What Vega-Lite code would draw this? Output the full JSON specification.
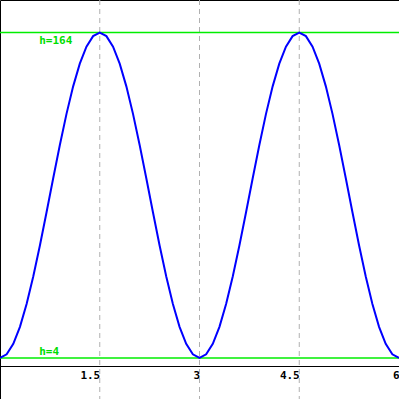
{
  "$schema": "https://vega.github.io/schema/vega-lite/v6.json",
  "width": 399,
  "height": 399,
  "padding": 0,
  "autosize": {"type": "none"},
  "background": "white",
  "config": {"view": {"stroke": "black", "strokeWidth": 1}},
  "datasets": {
    "curve": [
      {"x": 0.0, "h": 4}, {"x": 0.1, "h": 5.75}, {"x": 0.2, "h": 10.92}, {"x": 0.3, "h": 19.28}, {"x": 0.4, "h": 30.47},
      {"x": 0.5, "h": 44}, {"x": 0.6, "h": 59.28}, {"x": 0.7, "h": 75.64}, {"x": 0.8, "h": 92.36}, {"x": 0.9, "h": 108.72},
      {"x": 1.0, "h": 124}, {"x": 1.1, "h": 137.53}, {"x": 1.2, "h": 148.72}, {"x": 1.3, "h": 157.08}, {"x": 1.4, "h": 162.25},
      {"x": 1.5, "h": 164}, {"x": 1.6, "h": 162.25}, {"x": 1.7, "h": 157.08}, {"x": 1.8, "h": 148.72}, {"x": 1.9, "h": 137.53},
      {"x": 2.0, "h": 124}, {"x": 2.1, "h": 108.72}, {"x": 2.2, "h": 92.36}, {"x": 2.3, "h": 75.64}, {"x": 2.4, "h": 59.28},
      {"x": 2.5, "h": 44}, {"x": 2.6, "h": 30.47}, {"x": 2.7, "h": 19.28}, {"x": 2.8, "h": 10.92}, {"x": 2.9, "h": 5.75},
      {"x": 3.0, "h": 4}, {"x": 3.1, "h": 5.75}, {"x": 3.2, "h": 10.92}, {"x": 3.3, "h": 19.28}, {"x": 3.4, "h": 30.47},
      {"x": 3.5, "h": 44}, {"x": 3.6, "h": 59.28}, {"x": 3.7, "h": 75.64}, {"x": 3.8, "h": 92.36}, {"x": 3.9, "h": 108.72},
      {"x": 4.0, "h": 124}, {"x": 4.1, "h": 137.53}, {"x": 4.2, "h": 148.72}, {"x": 4.3, "h": 157.08}, {"x": 4.4, "h": 162.25},
      {"x": 4.5, "h": 164}, {"x": 4.6, "h": 162.25}, {"x": 4.7, "h": 157.08}, {"x": 4.8, "h": 148.72}, {"x": 4.9, "h": 137.53},
      {"x": 5.0, "h": 124}, {"x": 5.1, "h": 108.72}, {"x": 5.2, "h": 92.36}, {"x": 5.3, "h": 75.64}, {"x": 5.4, "h": 59.28},
      {"x": 5.5, "h": 44}, {"x": 5.6, "h": 30.47}, {"x": 5.7, "h": 19.28}, {"x": 5.8, "h": 10.92}, {"x": 5.9, "h": 5.75},
      {"x": 6.0, "h": 4}
    ],
    "grid": [{"x": 1.5}, {"x": 3}, {"x": 4.5}],
    "levels": [{"h": 164}, {"h": 4}]
  },
  "layer": [
    {
      "data": {"name": "grid"},
      "mark": {"type": "rule", "color": "#b0b0b0", "strokeDash": [5, 4], "strokeWidth": 1},
      "encoding": {
        "x": {"field": "x", "type": "quantitative", "scale": {"domain": [0, 6], "nice": false, "zero": false},
          "axis": {"orient": "bottom", "offset": -33, "values": [1.5, 3, 4.5, 6], "format": "~g", "title": null, "grid": false, "ticks": false,
            "domain": true, "domainColor": "black", "domainWidth": 1, "labelFont": "DejaVu Sans Mono", "labelFontWeight": "bold",
            "labelFontSize": 11, "labelColor": "black", "labelAlign": "right", "labelBaseline": "top", "labelPadding": 3,
            "labelFlush": false, "labelOverlap": false}}
      }
    },
    {
      "data": {"name": "levels"},
      "mark": {"type": "rule", "color": "#00ee00", "strokeWidth": 1.5},
      "encoding": {
        "y": {"field": "h", "type": "quantitative", "scale": {"domain": [-16.2, 180], "nice": false, "zero": false}, "axis": null}
      }
    },
    {
      "data": {"name": "curve"},
      "mark": {"type": "line", "color": "#0000ff", "strokeWidth": 2},
      "encoding": {
        "x": {"field": "x", "type": "quantitative"},
        "y": {"field": "h", "type": "quantitative"}
      }
    },
    {
      "data": {"values": [{"x": 0.59, "h": 164, "label": "h=164"}]},
      "mark": {"type": "text", "color": "#00dd00", "font": "DejaVu Sans Mono", "fontWeight": "bold", "fontSize": 11, "align": "left", "baseline": "top", "dy": 2},
      "encoding": {
        "x": {"field": "x", "type": "quantitative"},
        "y": {"field": "h", "type": "quantitative"},
        "text": {"field": "label"}
      }
    },
    {
      "data": {"values": [{"x": 0.59, "h": 4, "label": "h=4"}]},
      "mark": {"type": "text", "color": "#00dd00", "font": "DejaVu Sans Mono", "fontWeight": "bold", "fontSize": 11, "align": "left", "baseline": "bottom", "dy": -1},
      "encoding": {
        "x": {"field": "x", "type": "quantitative"},
        "y": {"field": "h", "type": "quantitative"},
        "text": {"field": "label"}
      }
    }
  ]
}
